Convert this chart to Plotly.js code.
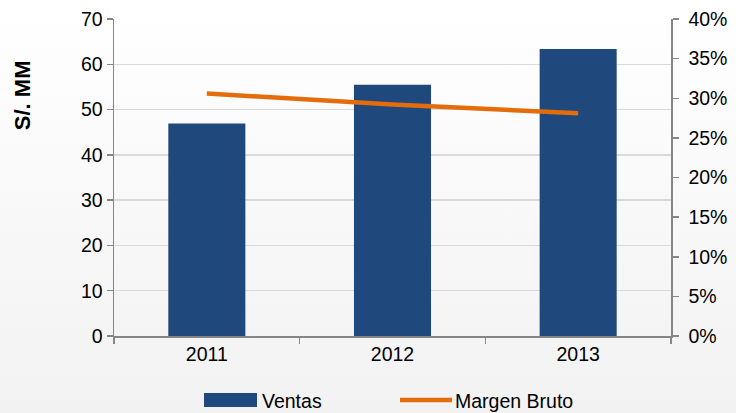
<!DOCTYPE html>
<html>
<head>
<meta charset="utf-8">
<script src="https://cdn.plot.ly/plotly-3.0.1.min.js"></script>
<style>
  html, body { margin: 0; padding: 0; }
  #chart { width: 736px; height: 413px; background: linear-gradient(to bottom, #ffffff 0%, #f2f2f2 100%); }
</style>
</head>
<body>
<div id="chart"></div>
<script>
const years = ['2011', '2012', '2013'];
const ventas = [46.9, 55.5, 63.4];
const margenBruto = [0.306, 0.292, 0.281];
const leftTicks = [0, 10, 20, 30, 40, 50, 60, 70];
const rightTicks = [0, 0.05, 0.10, 0.15, 0.20, 0.25, 0.30, 0.35, 0.40];
const rightTickText = ['0%', '5%', '10%', '15%', '20%', '25%', '30%', '35%', '40%'];

const FAMILY = '"Liberation Sans", Arial, sans-serif';
const font = { family: FAMILY, size: 19.5, color: '#000000' };

const traces = [
  {
    type: 'bar', name: 'Ventas', x: years, y: ventas,
    marker: { color: '#1F497D' }, yaxis: 'y', hoverinfo: 'none'
  },
  {
    type: 'scatter', mode: 'lines', name: 'Margen Bruto', x: years, y: margenBruto,
    line: { color: '#E46C0A', width: 4.5 }, yaxis: 'y2', hoverinfo: 'none'
  }
];

const layout = {
  width: 736, height: 413,
  margin: { l: 114, r: 65, t: 19, b: 77 },
  paper_bgcolor: 'rgba(0,0,0,0)',
  plot_bgcolor: 'rgba(0,0,0,0)',
  font: font,
  bargap: 0.585,
  showlegend: true,
  legend: {
    orientation: 'h', xref: 'container', yref: 'container',
    x: 0.25, xanchor: 'left', y: 0.03, yanchor: 'middle',
    font: font, traceorder: 'normal', bgcolor: 'rgba(0,0,0,0)'
  },
  xaxis: {
    type: 'category', tickson: 'boundaries', ticks: 'outside', ticklen: 6,
    tickcolor: '#868686', tickwidth: 1.5, showline: true, linecolor: '#868686', linewidth: 1.5,
    showgrid: false, tickfont: font, zeroline: false, automargin: false
  },
  yaxis: {
    range: [0, 70], tickvals: leftTicks, ticks: 'outside', ticklen: 6,
    tickcolor: '#868686', tickwidth: 1.5, showline: true, linecolor: '#868686', linewidth: 1.5,
    gridcolor: '#d9d9d9', gridwidth: 1.5, zeroline: false, tickfont: font, automargin: false
  },
  yaxis2: {
    overlaying: 'y', side: 'right', range: [0, 0.40], tickvals: rightTicks, ticktext: rightTickText,
    ticks: 'outside', ticklen: 6, tickcolor: '#868686', tickwidth: 1.5, showline: true, linecolor: '#868686', linewidth: 1.5,
    showgrid: false, zeroline: false, tickfont: font, automargin: false, ticklabelstandoff: 6
  },
  annotations: [{
    text: '<b>S/. MM</b>', xref: 'paper', yref: 'paper', x: -0.165, y: 0.76,
    xanchor: 'center', yanchor: 'middle', textangle: -90, showarrow: false,
    font: { family: FAMILY, size: 22, color: '#000' }
  }]
};

Plotly.newPlot('chart', traces, layout, { displayModeBar: false, staticPlot: true }).then(function (gd) {
  // Widen legend symbols to Excel-like proportions
  gd.querySelectorAll('.legend, .legend *').forEach(function (el) {
    if (el.hasAttribute && el.hasAttribute('clip-path')) el.removeAttribute('clip-path');
  });
  const groups = gd.querySelectorAll('.legend .traces');
  const targets = [
    { x: 204, y: 400, symW: 53, textX: 58 },
    { x: 400, y: 400, symW: 52, textX: 55 }
  ];
  groups.forEach(function (g, i) {
    const t = targets[i];
    if (!t) return;
    const ctm = g.parentNode.getCTM();
    const svgCtm = g.ownerSVGElement.getCTM();
    const ox = ctm.e - (svgCtm ? svgCtm.e : 0);
    const oy = ctm.f - (svgCtm ? svgCtm.f : 0);
    g.setAttribute('transform', 'translate(' + (t.x - ox) + ',' + (t.y - oy) + ')');
    if (i === 0) {
      const bar = g.querySelector('.legendpoints path');
      if (bar) {
        bar.setAttribute('d', 'M' + t.symW / 2 + ',7H' + (-t.symW / 2) + 'V-7H' + t.symW / 2 + 'Z');
        bar.setAttribute('transform', 'translate(' + t.symW / 2 + ',0)');
      }
    }
    if (i === 1) {
      const ln = g.querySelector('.legendlines path');
      if (ln) { ln.setAttribute('d', 'M0,0h' + t.symW); ln.style.strokeWidth = '4.5px'; }
    }
    const txt = g.querySelector('text.legendtext');
    if (txt) txt.setAttribute('x', t.textX);
  });
});
</script>
</body>
</html>
